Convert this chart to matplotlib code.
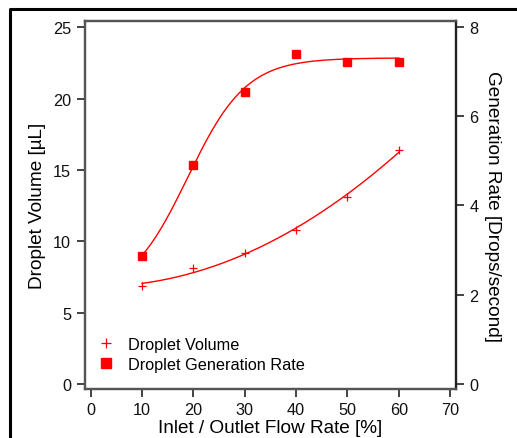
import numpy as np
import matplotlib
matplotlib.use("Agg")
import matplotlib.pyplot as plt
from matplotlib.lines import Line2D

plt.rcParams['font.family'] = ['Liberation Sans', 'DejaVu Sans']

# inlet / outlet flow rate [%]
flow_rate = [10, 20, 30, 40, 50, 60]
# droplet volume [uL] (left axis)
volume = [6.85, 8.13, 9.16, 10.81, 13.08, 16.4]
# droplet generation rate [drops/s] (right axis)
gen_rate = [2.87, 4.91, 6.54, 7.40, 7.21, 7.21]

x_ticks = [0, 10, 20, 30, 40, 50, 60, 70]
left_ticks = [0, 5, 10, 15, 20, 25]
right_ticks = [0, 2, 4, 6, 8]

RED = '#ff0000'
SPINE = '#555555'


def fit_volume(x, y):
    """exponential-ish fit, done as a 2nd order polynomial"""
    p = np.polyfit(x, y, 2)
    xs = np.linspace(min(x), max(x), 200)
    return xs, np.polyval(p, xs)


def fit_sigmoid(x, y):
    """base + max/(1+exp((xhalf-x)/rate)), grid search over xhalf and rate"""
    x = np.asarray(x, float)
    y = np.asarray(y, float)
    best = None
    for x0 in np.arange(10, 35, 0.1):
        for w in np.arange(1, 15, 0.1):
            f = 1.0 / (1.0 + np.exp((x0 - x) / w))
            vf = np.var(f)
            if vf == 0:
                continue
            a = np.mean((f - f.mean()) * (y - y.mean())) / vf
            b = y.mean() - a * f.mean()
            err = np.sum((b + a * f - y) ** 2)
            if best is None or err < best[0]:
                best = (err, x0, w, a, b)
    _, x0, w, a, b = best
    xs = np.linspace(x.min(), x.max(), 200)
    return xs, b + a / (1.0 + np.exp((x0 - xs) / w))


fig = plt.figure(figsize=(5.17, 4.39), dpi=100)
ax = fig.add_axes([0.1644, 0.1116, 0.717, 0.8383])
ax2 = ax.twinx()

xs, ys = fit_volume(flow_rate, volume)
ax.plot(xs, ys, color=RED, lw=1)
ax.plot(flow_rate, volume, '+', color=RED, ms=5.5, mew=0.9)

xs, ys = fit_sigmoid(flow_rate, gen_rate)
ax2.plot(xs, ys, color=RED, lw=1)
ax2.plot(flow_rate, gen_rate, 's', color=RED, ms=5.8)

ax.set_xlim(-1.1, 71.1)
ax.set_ylim(-0.35, 25.44)
ax2.set_ylim(-0.112, 8.128)
ax.set_xticks(x_ticks)
ax.set_yticks(left_ticks)
ax2.set_yticks(right_ticks)

for a in (ax, ax2):
    for s in a.spines.values():
        s.set_color(SPINE)
        s.set_linewidth(1.6)
    a.tick_params(direction='out', length=6, width=1.2, color='#222222',
                  labelsize=11.7, labelcolor='#111111', pad=4)
ax.tick_params(axis='x', length=5.5)
ax2.spines['right'].set_color('#222222')

ax.set_xlabel('Inlet / Outlet Flow Rate [%]', fontsize=13.7, labelpad=1)
ax.set_ylabel('Droplet Volume [\u00b5L]', fontsize=13.7, labelpad=5)
ax2.set_ylabel('Generation Rate [Drops/second]', fontsize=13.7, rotation=-90,
               labelpad=16)

handles = [Line2D([], [], ls='none', marker='+', color=RED, ms=7.5, mew=0.9),
           Line2D([], [], ls='none', marker='s', color=RED, ms=7.5)]
ax.legend(handles, ['Droplet Volume', 'Droplet Generation Rate'],
          loc='lower left', bbox_to_anchor=(0.017, 0.0285), borderaxespad=0,
          frameon=False, fontsize=11.7, handlelength=1.0,
          handletextpad=0.86, labelspacing=0.3)

# black frame around the figure, cut off at right and bottom
fig.add_artist(Line2D([0.0193, 0.0193, 1.0], [0.0, 0.977, 0.977],
                      color='black', lw=2.2, transform=fig.transFigure))

fig.savefig('out.png', dpi=100)
